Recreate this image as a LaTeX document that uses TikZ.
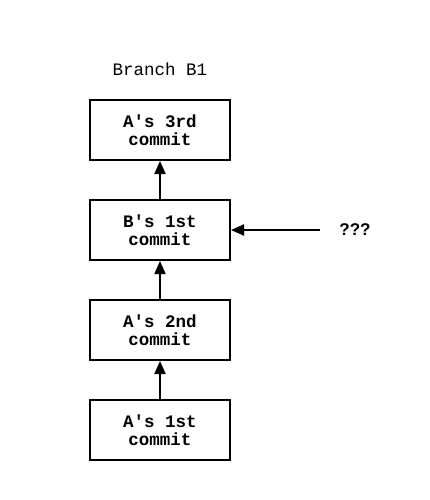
\documentclass[tikz,border=0pt]{standalone}
\usepackage{fontspec}
\setmainfont{Liberation Sans}
\newfontfamily\monofont{Liberation Mono}
\usetikzlibrary{arrows.meta}
\begin{document}
\begin{tikzpicture}[x=1pt,y=-1pt,
  commitbox/.style={draw,line width=2pt,minimum width=140pt,minimum height=60pt,inner sep=0pt,
    align=center,font=\monofont\bfseries\fontsize{17.5}{17.5}\selectfont},
  link/.style={line width=2pt,-{Triangle[length=13pt,width=11pt]}}]
\useasboundingbox (0,0) rectangle (430,500);
\node[font=\monofont\fontsize{17.5}{16}\selectfont] (title) at (160,69) {Branch B1};
\node[commitbox] (c3) at (160,130) {A's 3rd\\commit};
\node[commitbox] (b1) at (160,230) {B's 1st\\commit};
\node[commitbox] (c2) at (160,330) {A's 2nd\\commit};
\node[commitbox] (c1) at (160,430) {A's 1st\\commit};
\node[font=\bfseries\fontsize{17}{18}\selectfont] (q) at (355,230) {???};
\coordinate (qs) at (320,230);
\draw[link] (c1) -- (c2);
\draw[link] (c2) -- (b1);
\draw[link] (b1) -- (c3);
\draw[link] (qs) -- (b1);
\end{tikzpicture}
\end{document}
